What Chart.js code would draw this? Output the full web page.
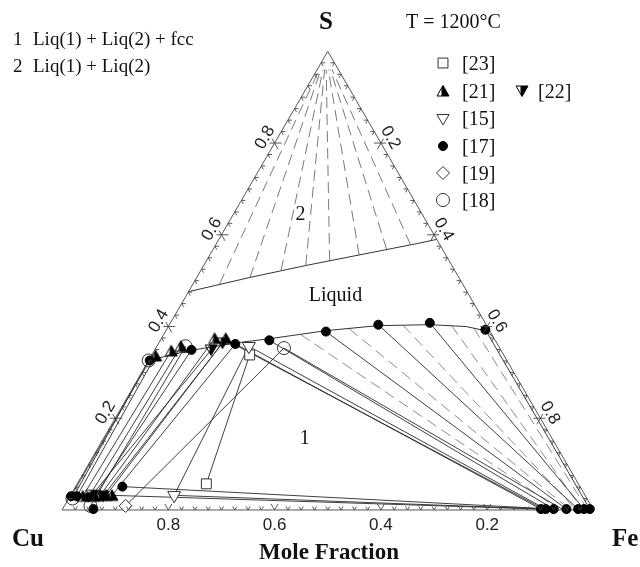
<!DOCTYPE html>
<html>
<head>
<meta charset="utf-8">
<script src="https://cdn.jsdelivr.net/npm/chart.js@4.4.1/dist/chart.umd.min.js"></script>
<style>
  html, body { margin: 0; padding: 0; background: #fff; }
  #wrap { width: 640px; height: 567px; position: relative; }
</style>
</head>
<body>
<div id="wrap"><canvas id="chart"></canvas></div>
<script>
// Cu-Fe-S isothermal section at 1200 C.
// Every composition below is [x(Fe), x(S)]; x(Cu) is whatever is left.

const SQRT3_2 = Math.sqrt(3) / 2;

// S-rich side: lower edge of the Liq(1) + Liq(2) gap
const gapBoundary = [[0.000, 0.476], [0.100, 0.507], [0.192, 0.533], [0.281, 0.556], [0.378, 0.581], [0.410, 0.590]];
// calculated tie lines of the gap, boundary end and S-rich end
const gapTieLow = [[0.050, 0.493], [0.100, 0.507], [0.151, 0.522], [0.192, 0.533], [0.232, 0.543], [0.281, 0.556], [0.326, 0.569], [0.366, 0.579]];
const gapTieHigh = [[0.004, 0.960], [0.007, 0.960], [0.011, 0.960], [0.014, 0.960], [0.017, 0.960], [0.021, 0.960], [0.025, 0.960], [0.028, 0.960]];

// matte (sulfide liquid) boundary
const matteBoundary = [[0.000, 0.326], [0.036, 0.338], [0.073, 0.349], [0.144, 0.364], [0.207, 0.374], [0.301, 0.391],
  [0.394, 0.402], [0.490, 0.404], [0.560, 0.400], [0.601, 0.391], [0.622, 0.378]];

// experimental points, one list per reference
const ref23 = [[0.184, 0.338], [0.243, 0.057]];
const ref21 = [[0.008, 0.336], [0.032, 0.347], [0.045, 0.357], [0.100, 0.374], [0.121, 0.374],
  [0.024, 0.030], [0.046, 0.030], [0.056, 0.032], [0.067, 0.032], [0.078, 0.032]];
const ref22 = [[0.106, 0.349], [0.120, 0.364], [0.040, 0.032], [0.062, 0.030]];
const ref15 = [[0.173, 0.357], [0.195, 0.032]];
const ref17 = [[0.002, 0.326], [0.069, 0.349], [0.145, 0.362], [0.205, 0.370], [0.302, 0.389], [0.393, 0.404], [0.488, 0.408], [0.600, 0.393],
  [0.002, 0.030], [0.036, 0.028], [0.058, 0.002], [0.088, 0.051], [0.013, 0.030],
  [0.900, 0.002], [0.909, 0.002], [0.924, 0.002], [0.948, 0.002], [0.970, 0.002], [0.981, 0.002], [0.992, 0.002]];
const ref19 = [[0.115, 0.009]];
const ref18 = [[0.000, 0.326], [0.054, 0.357], [0.241, 0.353], [0.007, 0.025], [0.049, 0.009]];

// measured tie lines matte -> Cu-rich liquid
const matteCuTies = [
  [[0.000, 0.326], [0.007, 0.025]], [[0.002, 0.326], [0.002, 0.030]], [[0.008, 0.336], [0.013, 0.030]],
  [[0.032, 0.347], [0.024, 0.030]], [[0.045, 0.357], [0.036, 0.028]], [[0.054, 0.357], [0.049, 0.009]],
  [[0.069, 0.349], [0.046, 0.030]], [[0.106, 0.349], [0.040, 0.032]], [[0.100, 0.374], [0.056, 0.032]],
  [[0.120, 0.364], [0.062, 0.030]], [[0.121, 0.374], [0.067, 0.032]], [[0.145, 0.362], [0.078, 0.032]],
  [[0.173, 0.357], [0.195, 0.032]], [[0.184, 0.338], [0.243, 0.057]], [[0.241, 0.353], [0.115, 0.009]]
];
// three-phase triangles and tie lines ending on fcc Fe
const fccTies = [
  [[0.145, 0.362], [0.900, 0.002]], [[0.150, 0.358], [0.905, 0.002]], [[0.173, 0.357], [0.909, 0.002]],
  [[0.078, 0.032], [0.900, 0.002]], [[0.088, 0.051], [0.924, 0.002]], [[0.195, 0.032], [0.909, 0.002]],
  [[0.205, 0.370], [0.924, 0.002]], [[0.241, 0.353], [0.940, 0.002]], [[0.302, 0.389], [0.948, 0.002]],
  [[0.393, 0.404], [0.970, 0.002]], [[0.488, 0.408], [0.981, 0.002]], [[0.600, 0.393], [0.992, 0.002]]
];
// calculated matte + fcc tie lines
const fccCalcTies = [
  [[0.257, 0.383], [0.930, 0.004]], [[0.343, 0.395], [0.950, 0.004]], [[0.440, 0.403], [0.962, 0.004]],
  [[0.532, 0.402], [0.975, 0.004]], [[0.577, 0.396], [0.985, 0.004]]
];

// axis labels
const axisTicks = [0.2, 0.4, 0.6, 0.8];
const axisTickLabels = ['0.2', '0.4', '0.6', '0.8'];
const legendRefs = ['[23]', '[21]', '[15]', '[17]', '[19]', '[18]', '[22]'];
const regionLabels = [
  { text: '2', at: [0.127, 0.643] },
  { text: 'Liquid', at: [0.281, 0.467] },
  { text: '1', at: [0.379, 0.155] }
];

const SERIF = "'Liberation Serif', 'Times New Roman', serif";
const SANS = "'Liberation Sans', Arial, sans-serif";

const toXY = p => ({ x: p[0] + p[1] / 2, y: p[1] * SQRT3_2 });

function halfTriangle(down) {
  const c = document.createElement('canvas');
  c.width = 14; c.height = 14;
  const g = c.getContext('2d');
  const apex = down ? 12.5 : 1.5, base = down ? 2 : 12;
  g.beginPath(); g.moveTo(7, apex); g.lineTo(13, base); g.lineTo(1, base); g.closePath();
  g.save(); g.clip(); g.fillStyle = '#000'; g.fillRect(5.5, 0, 9, 14); g.restore();
  g.strokeStyle = '#000'; g.lineWidth = 1; g.stroke();
  return c;
}

const markerStyles = {
  ref23: { pointStyle: 'rect', pointRadius: 7, pointBackgroundColor: '#fff', pointBorderColor: '#333', pointBorderWidth: 1 },
  ref21: { pointStyle: halfTriangle(false), pointRadius: 7 },
  ref22: { pointStyle: halfTriangle(true), pointRadius: 7 },
  ref15: { pointStyle: 'triangle', pointRotation: 180, pointRadius: 7.5, pointBackgroundColor: '#fff', pointBorderColor: '#333', pointBorderWidth: 1 },
  ref17: { pointStyle: 'circle', pointRadius: 4.5, pointBackgroundColor: '#000', pointBorderColor: '#000', pointBorderWidth: 1 },
  ref19: { pointStyle: 'rectRot', pointRadius: 6.5, pointBackgroundColor: '#fff', pointBorderColor: '#333', pointBorderWidth: 1 },
  ref18: { pointStyle: 'circle', pointRadius: 6.5, pointBackgroundColor: 'rgba(255,255,255,0)', pointBorderColor: '#333', pointBorderWidth: 1 }
};

function markers(points, key, order) {
  return Object.assign({ data: points.map(toXY), showLine: false, order: order }, markerStyles[key]);
}

function path(points, style) {
  return Object.assign({ data: points.map(toXY), showLine: true, pointRadius: 0, borderWidth: 1,
    borderColor: '#333', fill: false, tension: 0, order: 5 }, style);
}

const datasets = [
  markers(ref18, 'ref18', 1),
  markers(ref19, 'ref19', 1),
  markers(ref15, 'ref15', 1),
  markers(ref23, 'ref23', 1),
  markers(ref17, 'ref17', 0),
  markers(ref21, 'ref21', 0),
  markers(ref22, 'ref22', 0),
  path([[0, 0], [1, 0], [0, 1], [0, 0]], { borderColor: '#555' }),
  path(gapBoundary),
  path(matteBoundary)
];
gapTieLow.forEach((p, i) => datasets.push(path([p, gapTieHigh[i]], { borderColor: '#7a7a7a', borderDash: [11, 6], order: 8 })));
fccCalcTies.forEach(t => datasets.push(path(t, { borderColor: '#8c8c8c', borderDash: [11, 6], order: 8 })));
matteCuTies.forEach(t => datasets.push(path(t, { borderColor: '#2a2a2a', borderWidth: 0.9 })));
fccTies.forEach(t => datasets.push(path(t, { borderColor: '#2a2a2a', borderWidth: 0.9 })));

// Triangle frame: Cu at (55, 517), Fe at (601, 517) on a 640 x 567 canvas
const UNIT = 546;
const xMin = -55 / UNIT, xMax = 585 / UNIT;
const yMin = -50 / UNIT, yMax = 517 / UNIT;

const ternaryFrame = {
  id: 'ternaryFrame',
  afterDraw(chart) {
    const { ctx, scales: { x, y } } = chart;
    const px = p => { const q = toXY(p); return { x: x.getPixelForValue(q.x), y: y.getPixelForValue(q.y) }; };
    ctx.save();

    // tick marks every 0.025 along each edge, pointing inward along the grid directions
    const edges = [
      { at: t => [1 - t, 0], arms: [[0.5, -SQRT3_2], [-0.5, -SQRT3_2]], cross: false },     // x(Cu)
      { at: t => [0, t], arms: [[1, 0], [0.5, SQRT3_2]], cross: true },                       // x(S)
      { at: t => [t, 1 - t], arms: [[-1, 0], [-0.5, SQRT3_2]], cross: true }                  // x(Fe)
    ];
    ctx.strokeStyle = '#444';
    ctx.lineWidth = 0.9;
    edges.forEach(e => {
      for (let k = 1; k < 40; k++) {
        const t = k / 40;
        const big = k % 8 === 0;
        const p = px(e.at(t));
        const len = big ? 7 : 4;
        e.arms.forEach(a => {
          ctx.beginPath();
          const back = big && e.cross ? 5 : 0;
          ctx.moveTo(p.x - a[0] * back, p.y - a[1] * back);
          ctx.lineTo(p.x + a[0] * len, p.y + a[1] * len);
          ctx.stroke();
        });
      }
    });

    // edge numbers
    ctx.fillStyle = '#222';
    ctx.font = '17px ' + SANS;
    ctx.textAlign = 'center';
    ctx.textBaseline = 'middle';
    axisTicks.forEach((v, i) => {
      const b = px([1 - v, 0]);
      ctx.fillText(axisTickLabels[i], b.x, b.y + 15);

      const l = px([0, v]);
      ctx.save();
      ctx.translate(l.x - SQRT3_2 * 11, l.y - 0.5 * 11);
      ctx.rotate(-Math.PI / 3);
      ctx.fillText(axisTickLabels[i], 0, 0);
      ctx.restore();

      const r = px([v, 1 - v]);
      ctx.save();
      ctx.translate(r.x + SQRT3_2 * 11, r.y - 0.5 * 11);
      ctx.rotate(Math.PI / 3);
      ctx.fillText(axisTickLabels[i], 0, 0);
      ctx.restore();
    });

    // phase field labels
    ctx.font = '20px ' + SERIF;
    ctx.fillStyle = '#111';
    regionLabels.forEach(r => {
      const p = px(r.at);
      ctx.fillText(r.text, p.x, p.y);
    });

    // corner names and axis title
    ctx.textBaseline = 'alphabetic';
    ctx.font = 'bold 25px ' + SERIF;
    ctx.textAlign = 'center';
    ctx.fillText('S', 326, 29);
    ctx.textAlign = 'right';
    ctx.fillText('Cu', 44, 546);
    ctx.textAlign = 'left';
    ctx.fillText('Fe', 612, 546);
    ctx.textAlign = 'center';
    ctx.font = 'bold 23px ' + SERIF;
    ctx.fillText('Mole Fraction', 329, 559);

    // phase key and temperature
    ctx.font = '19px ' + SERIF;
    ctx.textAlign = 'left';
    ctx.fillText('1', 13, 45);
    ctx.fillText('Liq(1) + Liq(2) + fcc', 33, 45);
    ctx.fillText('2', 13, 72);
    ctx.fillText('Liq(1) + Liq(2)', 33, 72);
    ctx.font = '20px ' + SERIF;
    ctx.fillText('T = 1200\u00B0C', 406, 28);

    // reference key
    const keyOrder = ['ref23', 'ref21', 'ref15', 'ref17', 'ref19', 'ref18'];
    const keyRows = [63, 91, 118, 146, 173, 200];
    const keySize = { ref23: 7, ref15: 7, ref17: 4.5, ref19: 6.5, ref18: 6.5 };
    const drawKey = (key, cx, cy, label, tx) => {
      const s = markerStyles[key];
      ctx.fillStyle = s.pointBackgroundColor || '#000';
      ctx.strokeStyle = s.pointBorderColor || '#000';
      ctx.lineWidth = 1;
      Chart.helpers.drawPoint(ctx, { pointStyle: s.pointStyle, rotation: s.pointRotation || 0, radius: keySize[key] || 7, borderWidth: 1 }, cx, cy);
      ctx.fillStyle = '#111';
      ctx.font = '20px ' + SERIF;
      ctx.fillText(label, tx, cy + 7);
    };
    keyOrder.forEach((k, i) => drawKey(k, 443, keyRows[i], legendRefs[i], 462));
    drawKey('ref22', 522, keyRows[1], legendRefs[6], 538);

    ctx.restore();
  }
};

new Chart(document.getElementById('chart'), {
  type: 'scatter',
  data: { datasets },
  options: {
    responsive: true,
    maintainAspectRatio: false,
    animation: false,
    layout: { padding: 0 },
    plugins: { legend: { display: false }, tooltip: { enabled: false } },
    scales: {
      x: { type: 'linear', display: false, min: xMin, max: xMax },
      y: { type: 'linear', display: false, min: yMin, max: yMax }
    }
  },
  plugins: [ternaryFrame]
});
</script>
</body>
</html>
